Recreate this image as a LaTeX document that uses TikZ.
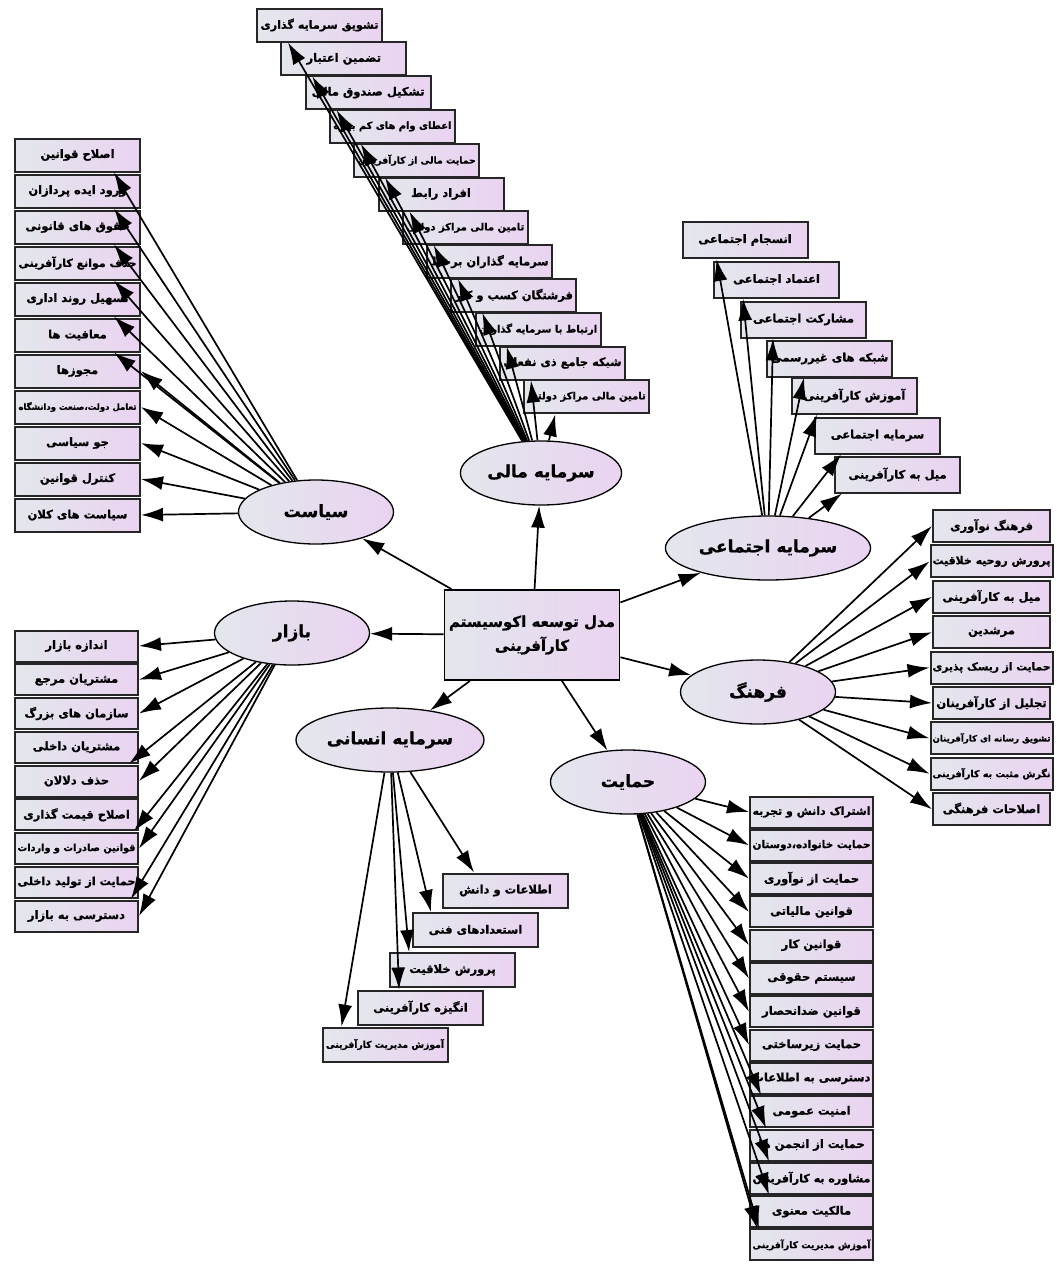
\documentclass[tikz,border=0pt]{standalone}
\usepackage{fontspec}
\usepackage{graphicx}
\usetikzlibrary{arrows.meta,shapes.geometric}
\TeXXeTstate=1
\newfontfamily\farsi[Script=Arabic, BoldFeatures={FakeBold=1}]{DejaVu Sans}
\definecolor{boxL}{HTML}{E3E7EC}
\definecolor{boxR}{HTML}{EAD3F1}
\newsavebox\fabox
\newlength\maxw \setlength\maxw{118pt}
% one line of Persian text, shrunk if wider than the box
\newcommand\fa[1]{\sbox\fabox{\farsi\bfseries\beginR #1\endR}%
  \ifdim\wd\fabox>\maxw\resizebox{\maxw}{!}{\usebox\fabox}\else\usebox\fabox\fi}
\newcommand\faline[1]{{\farsi\bfseries\beginR #1\endR}}
\tikzset{
  leaf/.style={draw=black!85, line width=2pt, minimum width=125pt, minimum height=33pt,
    inner sep=2pt, left color=boxL, right color=boxR, font=\fontsize{11.5}{13}\selectfont},
  factor/.style={ellipse, draw=black, line width=1.3pt, minimum width=155pt, minimum height=64pt,
    left color=boxL, right color=boxR, font=\fontsize{17}{20}\selectfont},
  hub/.style={draw=black, line width=1.8pt, minimum width=175pt, minimum height=90pt,
    left color=boxL, right color=boxR, align=center, font=\fontsize{15}{24}\selectfont},
  arr/.style={-{Latex[length=22pt,width=14pt]}, line width=1.7pt}
}
\begin{document}
\begin{tikzpicture}[x=1pt,y=-1pt]
\useasboundingbox (0,0) rectangle (1057,1270);

% Model in the middle
\node[hub] (eco) at (532,635) {\faline{مدل توسعه اکوسیستم}\\\faline{کارآفرینی}};

% The seven factors
\node[factor] (mali) at (541,473) {\faline{سرمایه مالی}};
\node[factor] (siasat) at (316,512) {\faline{سیاست}};
\node[factor] (ejtemai) at (768,548) {\faline{سرمایه اجتماعی}};
\node[factor] (bazar) at (292,633) {\faline{بازار}};
\node[factor] (farhang) at (758,692) {\faline{فرهنگ}};
\node[factor] (ensani) at (390,740) {\faline{سرمایه انسانی}};
\node[factor] (hemayat) at (628,782) {\faline{حمایت}};

% Financial capital (staircase)
\foreach \lbl [count=\i] in {تشویق سرمایه گذاری, تضمین اعتبار, تشکیل صندوق مالی,
    اعطای وام های کم بهره, حمایت مالی از کارآفرینان, افراد رابط, تامین مالی مراکز دولتی,
    سرمایه گذاران برخط, فرشتگان کسب و کار, ارتباط با سرمایه گذاران, شبکه جامع ذی نفعان,
    تامین مالی مراکز دولتی} {
  \node[leaf] (m\i) at ({319.5+24.3*(\i-1)},{25+33.8*(\i-1)}) {\fa{\lbl}};
}

% Policy
\foreach \lbl [count=\i] in {اصلاح قوانین, ورود ایده پردازان, حقوق های قانونی,
    حذف موانع کارآفرینی, تسهیل روند اداری, معافیت ها, مجوزها, تعامل دولت،صنعت ودانشگاه,
    جو سیاسی, کنترل قوانین, سیاست های کلان} {
  \node[leaf] (s\i) at (77.5,{155+36*(\i-1)}) {\fa{\lbl}};
}

% Social capital (staircase)
\foreach \lbl/\x/\y [count=\i] in {انسجام اجتماعی/745/240, اعتماد اجتماعی/776.5/279.5,
    مشارکت اجتماعی/803.5/319.5, شبکه های غیررسمی/829.5/358.5, آموزش کارآفرینی/854.5/395.5,
    سرمایه اجتماعی/877.5/435.5, میل به کارآفرینی/897.5/474.5} {
  \node[leaf, minimum height=36pt] (e\i) at (\x,\y) {\fa{\lbl}};
}

% Market
\foreach \lbl [count=\i] in {اندازه بازار, مشتریان مرجع, سازمان های بزرگ, مشتریان داخلی,
    حذف دلالان, اصلاح قیمت گذاری, قوانین صادرات و واردات, حمایت از تولید داخلی,
    دسترسی به بازار} {
  \node[leaf, minimum width=123pt, minimum height=31pt] (b\i) at (76.5,{646+33.75*(\i-1)}) {\fa{\lbl}};
}

% Culture
\foreach \lbl [count=\i] in {فرهنگ نوآوری, پرورش روحیه خلاقیت, میل به کارآفرینی, مرشدین,
    حمایت از ریسک پذیری, تجلیل از کارآفرینان, تشویق رسانه ای کارآفرینان,
    نگرش مثبت به کارآفرینی, اصلاحات فرهنگی} {
  \node[leaf, minimum width=117pt, minimum height=32pt] (f\i) at (991.5,{526+35.4*(\i-1)}) {\fa{\lbl}};
}

% Human capital (staircase)
\foreach \lbl/\x/\y [count=\i] in {اطلاعات و دانش/505.5/890.5, استعدادهای فنی/475.5/930,
    پرورش خلاقیت/452.5/970, انگیزه کارآفرینی/420.5/1007.5,
    آموزش مدیریت کارآفرینی/385/1044.5} {
  \node[leaf, minimum height=34pt] (h\i) at (\x,\y) {\fa{\lbl}};
}

% Support
\foreach \lbl [count=\i] in {اشتراک دانش و تجربه, حمایت خانواده،دوستان, حمایت از نوآوری,
    قوانین مالیاتی, قوانین کار, سیستم حقوقی, قوانین ضدانحصار, حمایت زیرساختی,
    دسترسی به اطلاعات, امنیت عمومی, حمایت از انجمن ها, مشاوره به کارآفرینان,
    مالکیت معنوی, آموزش مدیریت کارآفرینی} {
  \node[leaf, minimum width=123pt, minimum height=31pt] (p\i) at (811.5,{812+33.3*(\i-1)}) {\fa{\lbl}};
}

% Arrows to the leaves
\foreach \i in {1,...,12} \draw[arr] (mali) -- ([xshift=32pt]m\i.south west);
\foreach \i in {1,...,6} \draw[arr] (siasat) -- ([xshift=-27pt]s\i.south east);
\foreach \i in {7,...,11} \draw[arr] (siasat) -- (s\i.east);
\foreach \i/\dx in {1/35,2/30,3/33,4/38,5/26,6/27,7/8} \draw[arr] (ejtemai) -- ([xshift=\dx pt]e\i.south west);
\foreach \i/\a/\dx in {1/east/0,2/east/0,3/east/0,4/south east/-10,5/east/0,6/south east/-5,
    7/east/0,8/south east/-8,9/east/0} \draw[arr] (bazar) -- ([xshift=\dx pt]b\i.\a);
\foreach \i in {1,...,9} \draw[arr] (farhang) -- (f\i.west);
\foreach \i/\dx in {1/32,2/19,3/20,4/42,5/20} \draw[arr] (ensani) -- ([xshift=\dx pt]h\i.north west);
\foreach \i in {1,...,8} \draw[arr] (hemayat) -- (p\i.west);
\foreach \i/\dx in {9/12,10/17,11/20,12/20,13/8} \draw[arr] (hemayat) -- ([xshift=\dx pt]p\i.south west);
\draw[arr] (hemayat) -- ([xshift=10pt]p14.north west);

% Arrows from the model to the factors
\foreach \f in {mali,siasat,ejtemai,bazar,farhang,ensani,hemayat}
  \draw[arr] (eco) -- (\f);
\end{tikzpicture}
\end{document}
